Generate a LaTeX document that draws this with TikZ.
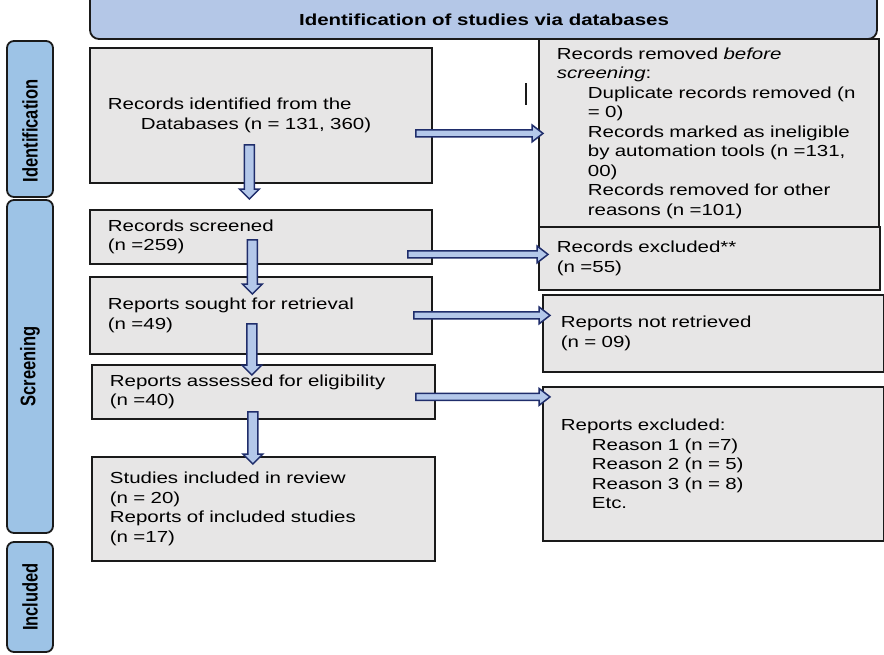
\documentclass[tikz,border=0pt]{standalone}
\usepackage{fontspec}
\setmainfont{Liberation Sans}[FakeStretch=1.28]
\newfontfamily\sidefont{Liberation Sans}
\usepackage{graphicx}
\usepackage{tikz}
\usetikzlibrary{calc}
\usetikzlibrary{positioning}

\definecolor{boxfill}{HTML}{E7E6E6}
\definecolor{boxline}{HTML}{1A1A1A}
\definecolor{sidefill}{HTML}{9DC3E6}
\definecolor{hdrfill}{HTML}{B4C7E7}
\definecolor{arrfill}{HTML}{B4C8EA}
\definecolor{arrline}{HTML}{1F2D6B}

\newcommand{\ind}{\hspace*{31pt}}

\tikzset{
  pbox/.style={draw=boxline, line width=1.8pt, fill=boxfill, anchor=north west,
    align=left, inner xsep=18pt, inner ysep=0pt, font=\fontsize{16}{19.5}\selectfont},
  sidebar/.style={draw=boxline, line width=1.8pt, fill=sidefill, rounded corners=7pt,
    minimum width=46pt, inner sep=0pt, font=\sidefont\bfseries\fontsize{16.5}{19}\selectfont},
  hdr/.style={draw=boxline, line width=1.8pt, fill=hdrfill, rounded corners=9pt},
  harr/.style={draw=arrline, fill=arrfill, line width=1.5pt,
    to path={let \p1=(\tikztostart), \p2=(\tikztotarget) in
      (\x1,\y1+3.5pt) -- (\x2-11pt,\y1+3.5pt) -- (\x2-11pt,\y1+8.5pt) -- (\x2,\y1)
      -- (\x2-11pt,\y1-8.5pt) -- (\x2-11pt,\y1-3.5pt) -- (\x1,\y1-3.5pt) -- cycle}},
  varr/.style={draw=arrline, fill=arrfill, line width=1.5pt,
    to path={let \p1=(\tikztostart), \p2=(\tikztotarget) in
      (\x1-5pt,\y1) -- (\x1-5pt,\y2+10pt) -- (\x1-10pt,\y2+10pt) -- (\x1,\y2)
      -- (\x1+10pt,\y2+10pt) -- (\x1+5pt,\y2+10pt) -- (\x1+5pt,\y1) -- cycle}}
}

\begin{document}
\begin{tikzpicture}[x=1pt,y=-1pt]
\useasboundingbox (0,0) rectangle (884,654);

% header and phase bars
\node [hdr, minimum width=787pt, minimum height=56pt] (head) at (483.5,11) {};
\node [font=\bfseries\fontsize{16}{19}\selectfont] (title) at (484,20) {Identification of studies via databases};
\node [sidebar, minimum height=156pt] (sideid) at (30,119) {\rotatebox{90}{\scalebox{1}[1.28]{Identification}\hspace*{24pt}}};
\node [sidebar, minimum height=333pt] (sidescr) at (30,366.5) {\rotatebox{90}{\scalebox{1}[1.28]{Screening}}};
\node [sidebar, minimum height=110pt] (sideinc) at (30,597) {\rotatebox{90}{\scalebox{1}[1.28]{Included}}};

% main column
\node [pbox, minimum width=342pt, minimum height=135pt, text width=306pt] (ident) at (89,47)
  {Records identified from the\\\hspace*{33pt}Databases (n = 131, 360)};
\node [pbox, minimum width=342pt, minimum height=54pt, text width=306pt] (screen) at (89,209)
  {Records screened\\(n =259)};
\node [pbox, minimum width=342pt, minimum height=77pt, text width=306pt] (sought) at (89,276)
  {Reports sought for retrieval\\(n =49)};
\node [pbox, minimum width=343pt, minimum height=54pt, text width=307pt] (assess) at (91,364)
  {Reports assessed for eligibility\\(n =40)};
\node [pbox, minimum width=343pt, minimum height=104pt, text width=307pt] (incl) at (91,456)
  {Studies included in review\\(n = 20)\\Reports of included studies\\(n =17)};

% side column
\node [pbox, minimum width=340pt, minimum height=188pt, text width=304pt] (removed) at (538,38)
  {Records removed \textit{before}\\\textit{screening}:\\
   \ind Duplicate records removed (n\\\ind = 0)\\
   \ind Records marked as ineligible\\\ind by automation tools (n =131,\\\ind 00)\\
   \ind Records removed for other\\\ind reasons (n =101)};
\node [pbox, minimum width=341pt, minimum height=63pt, text width=305pt] (excl) at (538,226)
  {Records excluded**\\(n =55)};
\node [pbox, minimum width=341pt, minimum height=77pt, text width=305pt] (notret) at (542,294)
  {Reports not retrieved\\(n = 09)};
\node [pbox, minimum width=341pt, minimum height=154pt, text width=305pt] (repexcl) at (542,386)
  {Reports excluded:\\\ind Reason 1 (n =7)\\\ind Reason 2 (n = 5)\\\ind Reason 3 (n = 8)\\\ind Etc.};

\draw [boxline, line width=1.5pt] (526,83) -- (526,105);

% arrows
\draw [varr] ([xshift=-11.5pt,yshift=39pt]ident.south) to ([xshift=-11.5pt,yshift=10pt]ident.south |- screen.north);
\draw [varr] ([xshift=-8.5pt,yshift=25pt]screen.south) to ([xshift=-8.5pt,yshift=-18pt]screen.south |- sought.north);
\draw [varr] ([xshift=-9pt,yshift=31pt]sought.south) to ([xshift=-9pt,yshift=-11pt]sought.south |- assess.north);
\draw [varr] ([xshift=-10.5pt,yshift=8pt]assess.south) to ([xshift=-10.5pt,yshift=-8pt]assess.south |- incl.north);
\draw [harr] ([xshift=-17pt,yshift=-18pt]ident.east) to ([xshift=5pt,yshift=-18pt]ident.east -| removed.west);
\draw [harr] ([xshift=-25pt,yshift=-17.5pt]screen.east) to ([xshift=10pt,yshift=-17.5pt]screen.east -| excl.west);
\draw [harr] ([xshift=-19pt]sought.east) to ([xshift=8pt]sought.east -| notret.west);
\draw [harr] ([xshift=-20pt,yshift=-5pt]assess.east) to ([xshift=8pt,yshift=-5pt]assess.east -| repexcl.west);
\end{tikzpicture}
\end{document}
